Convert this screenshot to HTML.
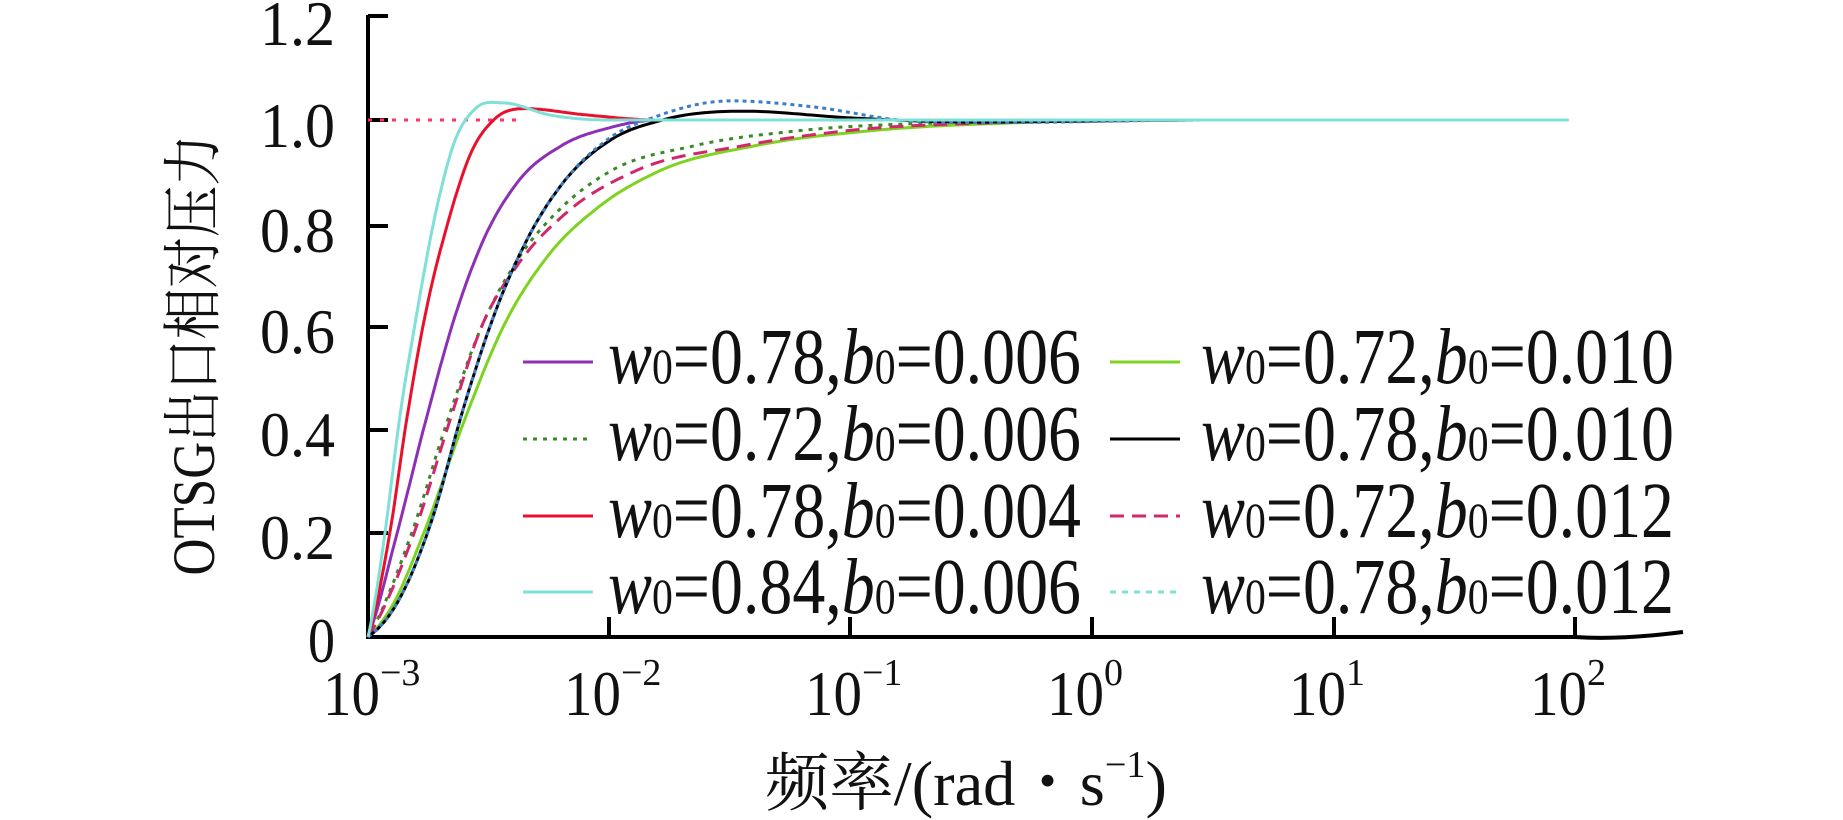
<!DOCTYPE html>
<html><head><meta charset="utf-8"><style>
html,body{margin:0;padding:0;background:#fff;}
svg{display:block;}
text{font-family:"Liberation Serif","Noto Serif CJK SC",serif;fill:#111;}
</style></head><body>
<svg id="s" width="1843" height="820" viewBox="0 0 1843 820" xmlns="http://www.w3.org/2000/svg">
<g stroke="#000" stroke-width="4" fill="none">
<line x1="368" y1="15" x2="368" y2="639"/>
<path d="M366 637 L1575 637 Q1620 640 1683 632"/>
<line x1="368" y1="16" x2="388" y2="16"/>
<line x1="368" y1="120" x2="388" y2="120"/>
<line x1="368" y1="226" x2="388" y2="226"/>
<line x1="368" y1="327" x2="388" y2="327"/>
<line x1="368" y1="430" x2="388" y2="430"/>
<line x1="368" y1="533" x2="388" y2="533"/>
<line x1="609" y1="637" x2="609" y2="617"/>
<line x1="850" y1="637" x2="850" y2="617"/>
<line x1="1092" y1="637" x2="1092" y2="617"/>
<line x1="1334" y1="637" x2="1334" y2="617"/>
<line x1="1575" y1="637" x2="1575" y2="617"/>
</g>
<g font-size="64" text-anchor="end">
<text x="335" y="45" textLength="75" lengthAdjust="spacingAndGlyphs">1.2</text>
<text x="335" y="147" textLength="75" lengthAdjust="spacingAndGlyphs">1.0</text>
<text x="335" y="252" textLength="75" lengthAdjust="spacingAndGlyphs">0.8</text>
<text x="335" y="353" textLength="75" lengthAdjust="spacingAndGlyphs">0.6</text>
<text x="335" y="456" textLength="75" lengthAdjust="spacingAndGlyphs">0.4</text>
<text x="335" y="559" textLength="75" lengthAdjust="spacingAndGlyphs">0.2</text>
<text x="335" y="662" textLength="27" lengthAdjust="spacingAndGlyphs">0</text>
</g>
<g id="xl" font-size="64"></g>
<text x="765" y="805" font-size="64" textLength="402" lengthAdjust="spacingAndGlyphs">频率/(rad・s<tspan font-size="38" dy="-28">−1</tspan><tspan dy="28">)</tspan></text>
<text transform="translate(214,355) rotate(-90)" font-size="60" text-anchor="middle" textLength="441" lengthAdjust="spacingAndGlyphs">OTSG出口相对压力</text>
<line x1="368" y1="120" x2="520" y2="120" stroke="#ff3366" stroke-width="3" stroke-dasharray="4,8"/>
<g id="curves" fill="none" stroke-width="3"></g>
<g id="leg" font-size="79"></g>
</svg>
<script>
var X=function(u){return 368+241.5*u},Y=function(v){return 637-517*v};
var S=[
["#8f2fb5","",[[0,0],[0.12,0.2],[0.24,0.42],[0.36,0.62],[0.48,0.77],[0.62,0.88],[0.8,0.95],[1.0,0.985],[1.2,1.0],[2,1],[4.97,1]]],
["#7ed321","",[[0,0],[0.1,0.06],[0.23,0.2],[0.4,0.42],[0.56,0.6],[0.75,0.74],[0.95,0.83],[1.2,0.9],[1.6,0.95],[2.1,0.98],[2.7,0.995],[3.5,1],[4.97,1]]],
["#3a8a2a","4,6",[[0,0],[0.18,0.2],[0.33,0.42],[0.47,0.6],[0.62,0.73],[0.8,0.83],[1.0,0.9],[1.35,0.95],[1.8,0.98],[2.4,0.995],[3.2,1],[4.97,1]]],
["#d0286a","14,8",[[0,0],[0.19,0.2],[0.34,0.42],[0.47,0.6],[0.62,0.72],[0.82,0.82],[1.1,0.9],[1.55,0.95],[2.0,0.98],[2.6,0.995],[3.2,1],[4.97,1]]],
["#000","",[[0,0],[0.1,0.05],[0.26,0.22],[0.4,0.45],[0.52,0.62],[0.66,0.77],[0.81,0.88],[1.0,0.96],[1.22,1.0],[1.56,1.017],[2.0,1.004],[2.5,0.996],[3.5,1],[4.97,1]]],
["#3a7fc8","4,4",[[0,0],[0.1,0.05],[0.26,0.22],[0.4,0.45],[0.52,0.62],[0.66,0.77],[0.81,0.88],[1.0,0.965],[1.2,1.008],[1.5,1.037],[1.85,1.025],[2.2,1.0],[2.6,0.995],[3.5,1],[4.97,1]]],
["#e8102a","",[[0,0],[0.09,0.2],[0.16,0.42],[0.24,0.63],[0.33,0.8],[0.43,0.94],[0.52,1.0],[0.65,1.022],[0.9,1.01],[1.2,1.0],[2,1],[4.97,1]]],
["#7fe0d8","",[[0,0],[0.07,0.2],[0.13,0.42],[0.2,0.62],[0.28,0.82],[0.36,0.96],[0.44,1.02],[0.56,1.033],[0.75,1.01],[1.0,1.0],[2,1],[4.97,1.0]]]
];
function path(pts){var n=pts.length,m=[];
for(var i=0;i<n;i++){
if(i==0){m.push((pts[1][1]-pts[0][1])/(pts[1][0]-pts[0][0])*0.7);continue;}
if(i==n-1){m.push(0);continue;}
var h0=pts[i][0]-pts[i-1][0],h1=pts[i+1][0]-pts[i][0];
var d0=(pts[i][1]-pts[i-1][1])/h0,d1=(pts[i+1][1]-pts[i][1])/h1;
if(d0*d1<=0){m.push(0);continue;}
m.push((d0*h1+d1*h0)/(h0+h1));}
var d="M"+X(pts[0][0]).toFixed(1)+" "+Y(pts[0][1]).toFixed(1);
for(var i=0;i<n-1;i++){var x0=pts[i][0],x1=pts[i+1][0],h=x1-x0,y0=pts[i][1],y1=pts[i+1][1];
for(var k=1;k<=24;k++){var t=k/24,t2=t*t,t3=t2*t;
var y=(2*t3-3*t2+1)*y0+(t3-2*t2+t)*h*m[i]+(-2*t3+3*t2)*y1+(t3-t2)*h*m[i+1];
d+=" L"+X(x0+h*t).toFixed(1)+" "+Y(y).toFixed(1);}}
return d;}
var h="";
S.forEach(function(s){h+='<path d="'+path(s[2])+'" stroke="'+s[0]+'"'+(s[1]?' stroke-dasharray="'+s[1]+'"':'')+'/>';});
document.getElementById("curves").innerHTML=h;
var xs=[368,609,850,1092,1334,1575],ex=["−3","−2","−1","0","1","2"],xl="";
for(var i=0;i<6;i++){xl+='<text x="'+(xs[i]-45)+'" y="715"><tspan textLength="57" lengthAdjust="spacingAndGlyphs">10</tspan><tspan font-size="38" dy="-30">'+ex[i]+'</tspan></text>';}
document.getElementById("xl").innerHTML=xl;
var legC=["#8f2fb5","#7ed321","#3a8a2a","#000","#e8102a","#d0286a","#7fe0d8","#7fe0d8"];
var legD=["","","4,6","","","14,8","","6,6"];
var labs=[["0.78","0.006"],["0.72","0.010"],["0.72","0.006"],["0.78","0.010"],["0.78","0.004"],["0.72","0.012"],["0.84","0.006"],["0.78","0.012"]];
var t="",ys=[383,460,537,613];
for(var k=0;k<8;k++){var col=k%2,row=(k-col)/2,y=ys[row];
var lx=col?1110:523,tx=col?1201:608;
t+='<line x1="'+lx+'" y1="'+(y-21)+'" x2="'+(lx+70)+'" y2="'+(y-21)+'" stroke="'+legC[k]+'" stroke-width="3"'+(legD[k]?' stroke-dasharray="'+legD[k]+'"':'')+'/>';
t+='<text x="'+tx+'" y="'+y+'" textLength="473" lengthAdjust="spacingAndGlyphs"><tspan font-style="italic">w</tspan><tspan font-size="50">0</tspan>='+labs[k][0]+',<tspan font-style="italic">b</tspan><tspan font-size="50">0</tspan>='+labs[k][1]+'</text>';}
document.getElementById("leg").innerHTML=t;
</script>
</body></html>
